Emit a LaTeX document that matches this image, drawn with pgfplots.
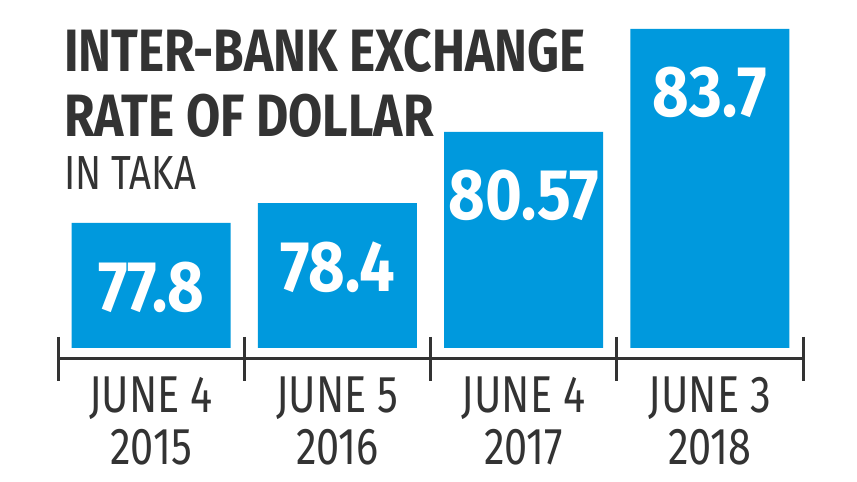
\documentclass[border=0pt]{standalone}
\usepackage{pgfplots}
\pgfplotsset{compat=1.18}
\usepackage{fontspec}
\setmainfont{Fira Sans}[FakeStretch=0.8]
\newfontfamily\numfont{Fira Sans}[FakeStretch=0.88]
\newfontfamily\titlefont{Fira Sans}[FakeStretch=0.83]
\definecolor{barblue}{HTML}{0099DD}
\definecolor{txt}{HTML}{333333}
\begin{document}
\begin{tikzpicture}[x=1bp,y=1bp]
\useasboundingbox (0,0) rectangle (857,482);
\fill[white] (0,0) rectangle (857,482);
\begin{axis}[
  at={(58bp,134bp)}, anchor=south west,
  scale only axis, width=745bp, height=329bp,
  xmin=-0.5, xmax=3.5, ymin=74, ymax=84,
  ybar, bar width=159bp,
  hide y axis,
  x axis line style={draw=none}, xtick style={draw=none},
  xtick={0,1,2,3},
  xticklabels={{JUNE 4\\2015},{JUNE 5\\2016},{JUNE 4\\2017},{JUNE 3\\2018}},
  xticklabel style={align=center, anchor=north, text=txt, font=\fontsize{52}{52}\selectfont, yshift=-21bp},
  clip=false,
  nodes near coords, point meta=explicit symbolic,
  every node near coord/.append style={anchor=center, yshift=-64bp, text=white, font=\numfont\bfseries\fontsize{72}{72}\selectfont},
]
\addplot[fill=barblue, draw=none] table[meta index=2] {
x y lab
0 77.8 77.8
1 78.4 78.4
2 80.57 80.57
3 83.7 83.7
};
\end{axis}
\draw[txt, line width=3bp] (58,123) -- (803,123);
\foreach \xx in {58,244.25,430.5,616.75,803} {
  \draw[txt, line width=3bp] (\xx,145) -- (\xx,101);
}
\node[anchor=base west, inner sep=0, text=txt, font=\titlefont\bfseries\fontsize{60}{60}\selectfont] at (64,410) {INTER-BANK EXCHANGE};
\node[anchor=base west, inner sep=0, text=txt, font=\titlefont\bfseries\fontsize{60}{60}\selectfont] at (64,345) {RATE OF DOLLAR};
\node[anchor=base west, inner sep=0, text=txt, font=\fontsize{48}{48}\selectfont] at (64,292) {IN TAKA};
\end{tikzpicture}
\end{document}
